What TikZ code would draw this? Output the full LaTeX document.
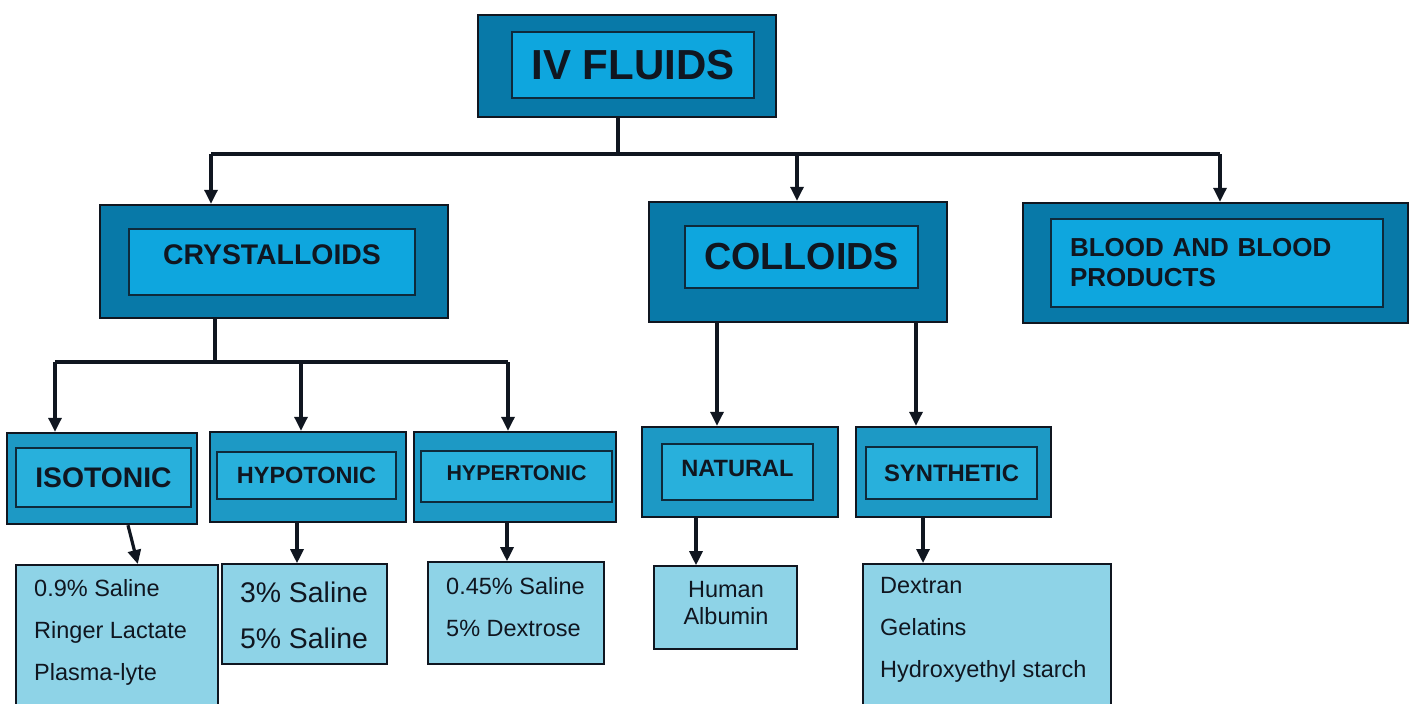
\documentclass[tikz,border=0pt]{standalone}
\usepackage{fontspec}
\setmainfont{Liberation Sans}
\usetikzlibrary{arrows.meta}
\definecolor{darkteal}{RGB}{8,121,168}
\definecolor{brightblue}{RGB}{14,166,222}
\definecolor{midteal}{RGB}{29,153,197}
\definecolor{midblue}{RGB}{40,176,220}
\definecolor{paleblue}{RGB}{142,211,231}
\definecolor{inkline}{RGB}{16,22,32}

\begin{document}
\begin{tikzpicture}
  [x=1pt,y=-1pt,
   outerbox/.style={draw=inkline,line width=2.4pt,fill=darkteal,inner sep=0pt},
   innerbox/.style={draw=inkline!80!darkteal,line width=1.6pt,fill=brightblue,inner sep=0pt,text=inkline},
   suboutbox/.style={outerbox,fill=midteal},
   subinbox/.style={innerbox,fill=midblue},
   leafbox/.style={draw=inkline,line width=1.6pt,fill=paleblue,inner sep=0pt},
   leaftext/.style={inner sep=0pt,align=left,text=inkline,font=\fontsize{23.5}{42}\selectfont},
   link/.style={line width=3.2pt,draw=inkline},
   arrow/.style={link,-{Triangle[width=13pt,length=14pt]}}]
  \useasboundingbox (0,0) rectangle (1414,704);
  \clip (0,0) rectangle (1414,704);

  % top
  \node[outerbox,minimum width=298pt,minimum height=102pt] (fluids) at (627,66) {};
  \node[innerbox,minimum width=242pt,minimum height=66pt,font=\bfseries\fontsize{42}{48}\selectfont] (fluidsin) at (633,65) {IV FLUIDS};

  % main groups
  \node[outerbox,minimum width=348pt,minimum height=113pt] (cryst) at (274,261.5) {};
  \node[innerbox,minimum width=286pt,minimum height=66pt,text depth=14pt,font=\bfseries\fontsize{28.4}{34}\selectfont] (crystin) at (272,262) {CRYSTALLOIDS};
  \node[outerbox,minimum width=298pt,minimum height=120pt] (coll) at (798,262) {};
  \node[innerbox,minimum width=233pt,minimum height=62pt,font=\bfseries\fontsize{37.7}{44}\selectfont] (collin) at (801.5,257) {COLLOIDS};
  \node[outerbox,minimum width=385pt,minimum height=120pt] (blood) at (1215.5,263) {};
  \node[innerbox,minimum width=332pt,minimum height=88pt,text width=294pt,align=left,font=\bfseries\fontsize{26}{30}\selectfont] (bloodin) at (1217,263) {BLOOD AND BLOOD\\PRODUCTS};

  % sub groups
  \node[suboutbox,minimum width=190pt,minimum height=91pt] (iso) at (102,478.5) {};
  \node[subinbox,minimum width=175pt,minimum height=59pt,font=\bfseries\fontsize{28.3}{34}\selectfont] (isoin) at (103.5,477.5) {ISOTONIC};
  \node[suboutbox,minimum width=196pt,minimum height=90pt] (hypo) at (308,477) {};
  \node[subinbox,minimum width=179pt,minimum height=47pt,font=\bfseries\fontsize{23.5}{28}\selectfont] (hypoin) at (306.5,475.5) {HYPOTONIC};
  \node[suboutbox,minimum width=202pt,minimum height=90pt] (hyper) at (515,477) {};
  \node[subinbox,minimum width=191pt,minimum height=51pt,text depth=7pt,font=\bfseries\fontsize{21.4}{26}\selectfont] (hyperin) at (516.5,476.5) {HYPERTONIC};
  \node[suboutbox,minimum width=196pt,minimum height=90pt] (nat) at (740,472) {};
  \node[subinbox,minimum width=151pt,minimum height=56pt,text depth=8pt,font=\bfseries\fontsize{23.6}{28}\selectfont] (natin) at (737.5,472) {NATURAL};
  \node[suboutbox,minimum width=195pt,minimum height=90pt] (syn) at (953.5,472) {};
  \node[subinbox,minimum width=171pt,minimum height=52pt,font=\bfseries\fontsize{23.8}{28}\selectfont] (synin) at (951.5,473) {SYNTHETIC};

  % leaves
  \node[leafbox,minimum width=202pt,minimum height=170pt,anchor=north west] (isolist) at (15,564) {};
  \node[leaftext,anchor=north west] (isotext) at (34,579.3) {0.9\% Saline\\Ringer Lactate\\Plasma-lyte};
  \node[leafbox,minimum width=165pt,minimum height=100pt] (hypolist) at (304.5,614) {};
  \node[leaftext,align=center,anchor=north,font=\fontsize{28.4}{46}\selectfont] (hypotext) at (304,581.5) {3\% Saline\\5\% Saline};
  \node[leafbox,minimum width=176pt,minimum height=102pt] (hyperlist) at (516,613) {};
  \node[leaftext,anchor=north west] (hypertext) at (446,577.3) {0.45\% Saline\\5\% Dextrose};
  \node[leafbox,minimum width=143pt,minimum height=83pt] (natlist) at (725.5,607.5) {};
  \node[leaftext,align=center,anchor=north,font=\fontsize{23.5}{27}\selectfont] (nattext) at (726,581.3) {Human\\Albumin};
  \node[leafbox,minimum width=248pt,minimum height=170pt,anchor=north west] (synlist) at (862,563) {};
  \node[leaftext,anchor=north west] (syntext) at (880,577.6) {Dextran\\Gelatins\\Hydroxyethyl starch};

  % bus from the top box
  \coordinate (busT) at (618,154);
  \coordinate (busL) at (211,154);
  \coordinate (busM) at (797,154);
  \coordinate (busR) at (1220,154);
  \draw[link] (fluids.south -| busT) -- (busT);
  \draw[link] (busL) -- (busR);
  \foreach \from/\to in {busL/cryst,busM/coll,busR/blood}
    \draw[arrow] (\from) -- (\from |- \to.north);

  % bus under crystalloids
  \coordinate (cbusT) at (215,362);
  \coordinate (cbusL) at (55,362);
  \coordinate (cbusM) at (301,362);
  \coordinate (cbusR) at (508,362);
  \draw[link] (cryst.south -| cbusT) -- (cbusT);
  \draw[link] (cbusL) -- (cbusR);
  \foreach \from/\to in {cbusL/iso,cbusM/hypo,cbusR/hyper}
    \draw[arrow] (\from) -- (\from |- \to.north);

  \draw[arrow] ([xshift=-81pt]coll.south) -- ([xshift=-23pt]nat.north);
  \draw[arrow] ([xshift=118pt]coll.south) -- ([xshift=-37.5pt]syn.north);

  \draw[arrow] ([xshift=26pt]iso.south) -- ([xshift=21pt]isolist.north);
  \draw[arrow] ([xshift=-11pt]hypo.south) -- ([xshift=-7.5pt]hypolist.north);
  \draw[arrow] ([xshift=-8pt]hyper.south) -- ([xshift=-9pt]hyperlist.north);
  \draw[arrow] ([xshift=-44pt]nat.south) -- ([xshift=-29.5pt]natlist.north);
  \draw[arrow] ([xshift=-30.5pt]syn.south) -- ([xshift=-30.5pt]synlist.north -| syn.south);

\end{tikzpicture}
\end{document}
